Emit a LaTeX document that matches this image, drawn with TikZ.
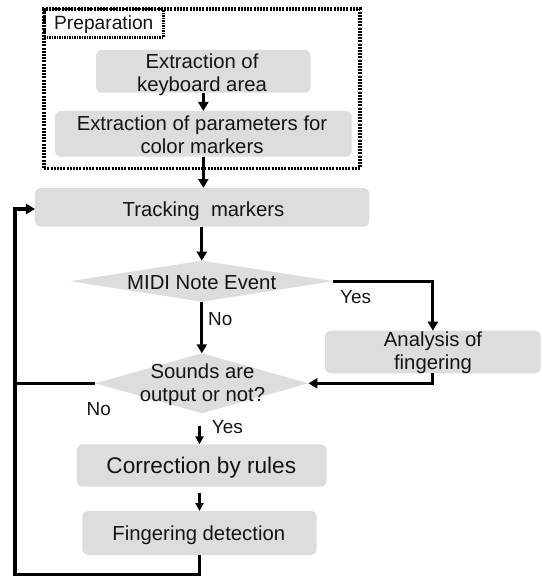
\documentclass[tikz,border=0pt]{standalone}
\usepackage{fontspec}
\setmainfont{Liberation Sans}
\usetikzlibrary{shapes.geometric,arrows.meta,calc}
\definecolor{boxfill}{RGB}{221,221,221}
\definecolor{inkcol}{RGB}{20,20,20}
\tikzset{
  procbox/.style={rectangle, fill=boxfill, rounded corners=6bp, inner sep=0pt, outer sep=0pt},
  decision/.style={diamond, fill=boxfill, inner sep=0pt, outer sep=0pt},
  txt/.style={inner sep=0pt, anchor=base, align=center, text=inkcol,
              font=\fontsize{20.3bp}{23bp}\selectfont},
  bigtxt/.style={txt, font=\fontsize{22.6bp}{26bp}\selectfont},
  answer/.style={inner sep=0pt, anchor=base west, text=inkcol,
                 font=\fontsize{18.9bp}{22bp}\selectfont},
  flow/.style={line width=3.2bp, -{Triangle[length=9bp,width=10bp]}},
  thinflow/.style={line width=2.4bp, -{Triangle[length=8bp,width=8bp]}},
  plain/.style={line width=3.2bp},
  groupframe/.style={draw, line width=3.6bp, dash pattern=on 2bp off 1.2bp,
                     inner sep=0pt, outer sep=0pt},
  tagframe/.style={draw, line width=2.4bp, dash pattern=on 1.5bp off 1bp,
                   inner sep=0pt, outer sep=0pt, text=inkcol,
                   font=\fontsize{19.2bp}{22bp}\selectfont,
                   text height=14bp, text depth=1bp},
}
\begin{document}
\begin{tikzpicture}[x=1bp,y=-1bp]
\useasboundingbox (0,0) rectangle (542,576);

% preparation group
\node[groupframe, minimum width=315.7bp, minimum height=159bp] (prep) at (202.15,88.8) {};
\node[tagframe, minimum width=119bp, minimum height=28.4bp] (preptag) at (103.8,23.5) {Preparation};

% process boxes and decisions
\node[procbox, minimum width=214.7bp, minimum height=42.7bp] (kb)  at (203.35,71.35) {};
\node[procbox, minimum width=296.7bp, minimum height=45.7bp] (par) at (203.35,133.85) {};
\node[procbox, minimum width=334.3bp, minimum height=38.7bp] (trk) at (202.15,207.35) {};
\node[decision, minimum width=263.3bp, minimum height=41bp] (midi) at (201.8,281.2) {};
\node[procbox, minimum width=215.7bp, minimum height=42.6bp] (ana) at (432.85,352) {};
\node[decision, minimum width=213.3bp, minimum height=60bp] (snd) at (201.8,383.3) {};
\node[procbox, minimum width=250bp, minimum height=42.4bp] (cor) at (201.7,465.5) {};
\node[procbox, minimum width=234.4bp, minimum height=44bp] (fin) at (199.5,533) {};

% texts (two-line texts are placed by the baseline of their last line)
\node[txt] (kb-t)   at (202,91.7)    {Extraction of\\keyboard area};
\node[txt] (par-t)  at (202,153.3)   {Extraction of parameters for\\color markers};
\node[txt] (trk-t)  at (203.5,216)   {Tracking\ \ markers};
\node[txt] (midi-t) at (201.7,289)   {MIDI Note Event};
\node[txt] (ana-t)  at (433,369.8)   {Analysis of\\fingering};
\node[txt] (snd-t)  at (202.5,401.7) {Sounds are\\output or not?};
\node[bigtxt] (cor-t) at (201.3,473.3) {Correction by rules};
\node[txt] (fin-t)  at (198.8,540)   {Fingering detection};

% branch answers
\node[answer] (yes1) at (340,303.3)  {Yes};
\node[answer] (no1)  at (208,325)    {No};
\node[answer] (no2)  at (86.5,415.7) {No};
\node[answer] (yes2) at (211.7,433.3) {Yes};

% loop-back corners
\coordinate (loopbot) at (15,574.3);
\coordinate (loopin)  at (15,209);

% connectors
\draw[flow] (kb.south) -- (par.north);
\draw[flow] (par.south) -- (par.south |- trk.north);
\draw[flow] (trk.south -| midi.north) -- (midi.north);
\draw[flow] (midi.east) -| (ana.north);
\draw[flow] (midi.south) -- (snd.north);
\draw[flow] (ana.south) |- (snd.east);
\draw[thinflow, shorten <=12.4bp] (snd.south -| fin.north) -- (cor.north -| fin.north);
\draw[thinflow, shorten <=6.6bp] (cor.south -| fin.north) -- (fin.north);
\draw[plain] (fin.south) |- (loopbot) -- (loopbot |- snd.west);
\draw[flow] (snd.west) -| (loopin) -- (loopin -| trk.west);
\end{tikzpicture}
\end{document}
